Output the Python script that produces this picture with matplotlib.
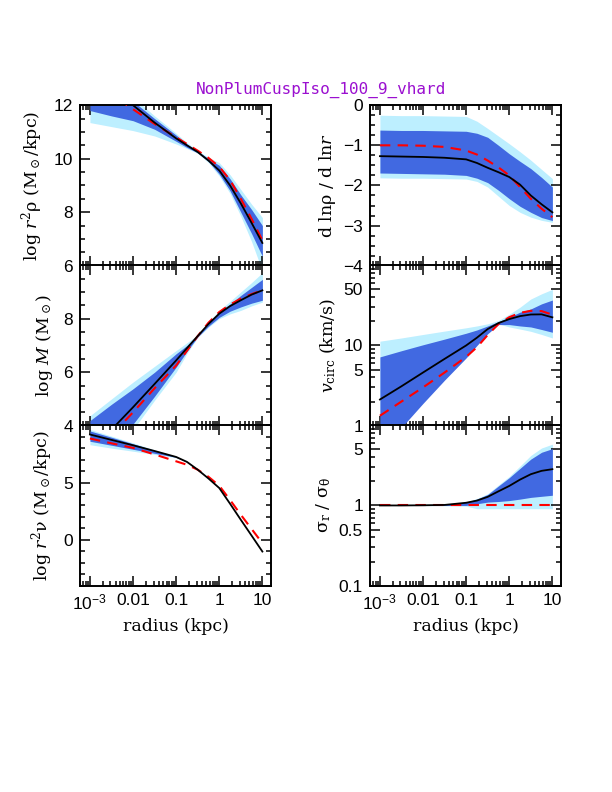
import matplotlib
matplotlib.use("Agg")
import matplotlib.pyplot as plt
from matplotlib.ticker import FixedLocator, FixedFormatter, MultipleLocator, LogLocator, NullFormatter

plt.rcParams['font.family'] = ['Liberation Sans', 'DejaVu Sans']
plt.rcParams['mathtext.fontset'] = 'dejavuserif'
plt.rcParams['mathtext.default'] = 'regular'

# radius grid (kpc)
radius = [0.001, 0.00316, 0.01, 0.0316, 0.1, 0.178, 0.316, 0.562, 1.0, 1.78, 3.16, 5.62, 10.0]

# ---- panel 1: log r^2 rho
rho_black = [13.3, 12.6, 12.0, 11.35, 10.76, 10.5, 10.25, 9.93, 9.56, 9.0, 8.33, 7.6, 6.85]
rho_red   = [13.0, 12.4, 11.85, 11.3, 10.8, 10.55, 10.3, 10.03, 9.7, 9.2, 8.5, 7.75, 6.95]
rho_l_hi  = [14.0, 13.0, 12.3, 11.6, 10.95, 10.6, 10.3, 10.05, 9.85, 9.4, 8.85, 8.3, 7.8]
rho_l_lo  = [11.35, 11.2, 11.05, 10.85, 10.55, 10.38, 10.2, 9.85, 9.35, 8.7, 7.85, 6.9, 5.8]
rho_d_hi  = [13.5, 12.8, 12.15, 11.5, 10.88, 10.55, 10.28, 10.0, 9.75, 9.25, 8.65, 8.1, 7.5]
rho_d_lo  = [11.8, 11.6, 11.42, 11.1, 10.65, 10.42, 10.22, 9.9, 9.42, 8.8, 8.0, 7.2, 6.35]

# ---- panel 2: dlnrho/dlnr
slope_black = [-1.27, -1.28, -1.29, -1.31, -1.35, -1.44, -1.56, -1.67, -1.79, -1.98, -2.25, -2.47, -2.67]
slope_red   = [-1.0, -1.0, -1.01, -1.04, -1.13, -1.23, -1.38, -1.55, -1.75, -2.04, -2.33, -2.58, -2.79]
slope_l_hi  = [-0.25, -0.26, -0.26, -0.27, -0.28, -0.4, -0.58, -0.77, -0.96, -1.16, -1.37, -1.6, -1.83]
slope_l_lo  = [-1.81, -1.82, -1.82, -1.83, -1.84, -1.9, -2.04, -2.27, -2.5, -2.67, -2.79, -2.87, -2.92]
slope_d_hi  = [-0.62, -0.63, -0.63, -0.64, -0.65, -0.7, -0.8, -1.0, -1.21, -1.4, -1.58, -1.8, -2.04]
slope_d_lo  = [-1.69, -1.7, -1.71, -1.72, -1.75, -1.82, -1.93, -2.12, -2.33, -2.52, -2.67, -2.8, -2.875]

# ---- panel 3: log M
mass_black = [3.0, 3.85, 4.69, 5.56, 6.44, 6.9, 7.35, 7.8, 8.19, 8.47, 8.69, 8.9, 9.06]
mass_red   = [2.7, 3.65, 4.5, 5.4, 6.25, 6.8, 7.35, 7.85, 8.25, 8.53, 8.75, 8.92, 9.06]
mass_l_hi  = [4.37, 5.0, 5.63, 6.22, 6.81, 7.1, 7.4, 7.85, 8.31, 8.65, 9.0, 9.35, 9.72]
mass_l_lo  = [2.0, 2.9, 3.85, 4.95, 6.0, 6.7, 7.3, 7.68, 8.0, 8.18, 8.31, 8.48, 8.62]
mass_d_hi  = [4.19, 4.8, 5.38, 6.0, 6.69, 7.0, 7.38, 7.8, 8.25, 8.55, 8.87, 9.17, 9.47]
mass_d_lo  = [2.4, 3.25, 4.06, 5.1, 6.19, 6.78, 7.32, 7.72, 8.05, 8.28, 8.44, 8.58, 8.69]

# ---- panel 4: v_circ (km/s)
vc_black = [2.12, 3.1, 4.6, 6.8, 10.0, 12.5, 16.0, 19.0, 21.3, 23.2, 24.3, 24.4, 22.4]
vc_red   = [1.33, 2.0, 3.0, 4.6, 7.2, 9.5, 13.5, 18.5, 22.5, 25.5, 27.0, 26.8, 24.2]
vc_l_hi  = [11.3, 12.4, 13.7, 15.1, 16.6, 17.5, 18.6, 20.5, 24.5, 30.0, 37.9, 44.0, 50.0]
vc_l_lo  = [0.52, 1.02, 2.0, 3.9, 7.6, 10.6, 14.8, 18.6, 17.0, 16.0, 15.0, 13.7, 12.4]
vc_d_hi  = [7.2, 8.6, 10.2, 12.0, 14.2, 15.6, 17.5, 19.8, 22.5, 26.0, 28.5, 33.0, 36.8]
vc_d_lo  = [0.4, 0.95, 1.9, 3.7, 7.0, 10.0, 14.0, 18.2, 18.2, 17.5, 17.0, 15.8, 14.6]

# ---- panel 5: log r^2 nu
nu_black = [9.19, 8.72, 8.25, 7.75, 7.23, 6.8, 6.12, 5.35, 4.52, 3.15, 1.75, 0.37, -1.02]
nu_red   = [8.84, 8.42, 8.02, 7.45, 6.85, 6.55, 6.12, 5.5, 4.72, 3.48, 2.19, 0.95, -0.29]
nu_l_hi  = [9.63, 9.05, 8.46, 7.85, 7.28, 6.83, 6.14, 5.37, 4.54, 3.17, 1.77, 0.39, -1.0]
nu_l_lo  = [8.3, 8.0, 7.73, 7.45, 7.18, 6.77, 6.10, 5.33, 4.50, 3.13, 1.73, 0.35, -1.04]
nu_d_hi  = [9.5, 8.95, 8.38, 7.8, 7.26, 6.82, 6.13, 5.36, 4.53, 3.16, 1.76, 0.38, -1.01]
nu_d_lo  = [8.6, 8.25, 7.9, 7.55, 7.2, 6.78, 6.11, 5.34, 4.51, 3.14, 1.74, 0.36, -1.03]

# ---- panel 6: sigma_r / sigma_theta
an_black = [1.0, 1.0, 1.005, 1.015, 1.08, 1.15, 1.28, 1.5, 1.75, 2.1, 2.45, 2.7, 2.83]
an_red   = [1.0, 1.0, 1.0, 1.0, 1.0, 1.0, 1.0, 1.0, 1.0, 1.0, 1.0, 1.0, 1.0]
an_l_hi  = [1.0, 1.0, 1.01, 1.035, 1.11, 1.22, 1.4, 1.8, 2.3, 3.1, 4.2, 5.2, 5.8]
an_l_lo  = [1.0, 1.0, 0.995, 0.99, 0.98, 0.91, 0.91, 0.91, 0.91, 0.91, 0.91, 0.91, 0.91]
an_d_hi  = [1.0, 1.0, 1.01, 1.03, 1.1, 1.2, 1.37, 1.75, 2.22, 2.9, 3.78, 4.6, 5.1]
an_d_lo  = [1.0, 1.0, 1.0, 1.0, 1.0, 1.05, 1.1, 1.12, 1.15, 1.2, 1.26, 1.3, 1.34]

xtick_vals = [0.001, 0.01, 0.1, 1, 10]
xtick_labels = ['$10^{-3}$', '0.01', '0.1', '1', '10']

LIGHT = '#bdefff'
DARK = '#4169e1'

fig = plt.figure(figsize=(6.12, 7.92), dpi=100)

lx, rx, w = 80/612, 370/612, 191/612
h = 160.5/792
ys = [1-265.7/792, 1-425.7/792, 1-585.7/792]

def style(ax):
    ax.set_xscale('log')
    ax.set_xlim(10**-3.23, 10**1.2)
    ax.xaxis.set_major_locator(FixedLocator(xtick_vals))
    ax.xaxis.set_minor_locator(LogLocator(base=10, subs=range(2, 10), numticks=20))
    ax.tick_params(which='both', direction='in', top=True, right=True, width=1.1)
    ax.tick_params(which='major', length=7, labelsize=12.5, pad=5)
    ax.tick_params(which='minor', length=3.6)
    for s in ax.spines.values():
        s.set_linewidth(1.4)

def draw(ax, y_black, y_red, lhi, llo, dhi, dlo):
    ax.fill_between(radius, llo, lhi, color=LIGHT, lw=0, zorder=1)
    ax.fill_between(radius, dlo, dhi, color=DARK, lw=0, zorder=2)
    ax.plot(radius, y_black, color='black', lw=1.3, zorder=4)
    ax.plot(radius, y_red, color='red', lw=1.5, dashes=(5, 3.5), zorder=3)

labfont = dict(family='DejaVu Serif', size=12.5)

# left column
ax1 = fig.add_axes([lx, ys[0], w, h])
draw(ax1, rho_black, rho_red, rho_l_hi, rho_l_lo, rho_d_hi, rho_d_lo)
style(ax1)
ax1.set_ylim(6, 12)
ax1.yaxis.set_major_locator(FixedLocator([6, 8, 10, 12]))
ax1.yaxis.set_minor_locator(MultipleLocator(0.5))
ax1.set_ylabel(r'log $\mathit{r}^2\rho$ (M$_\odot$/kpc)', fontdict=labfont, labelpad=6)

ax3 = fig.add_axes([lx, ys[1], w, h])
draw(ax3, mass_black, mass_red, mass_l_hi, mass_l_lo, mass_d_hi, mass_d_lo)
style(ax3)
ax3.set_ylim(4, 10)
ax3.yaxis.set_major_locator(FixedLocator([4, 6, 8]))
ax3.yaxis.set_minor_locator(MultipleLocator(0.5))
ax3.set_ylabel(r'log $\mathit{M}$ (M$_\odot$)', fontdict=labfont, labelpad=6)

ax5 = fig.add_axes([lx, ys[2], w, h])
draw(ax5, nu_black, nu_red, nu_l_hi, nu_l_lo, nu_d_hi, nu_d_lo)
style(ax5)
ax5.set_ylim(-4, 10)
ax5.yaxis.set_major_locator(FixedLocator([0, 5]))
ax5.yaxis.set_minor_locator(MultipleLocator(1))
ax5.set_ylabel(r'log $\mathit{r}^2\nu$ (M$_\odot$/kpc)', fontdict=labfont, labelpad=6)

# right column
ax2 = fig.add_axes([rx, ys[0], w, h])
draw(ax2, slope_black, slope_red, slope_l_hi, slope_l_lo, slope_d_hi, slope_d_lo)
style(ax2)
ax2.set_ylim(-4, 0)
ax2.yaxis.set_major_locator(FixedLocator([-4, -3, -2, -1, 0]))
ax2.yaxis.set_major_formatter(FixedFormatter(['\u22124', '\u22123', '\u22122', '\u22121', '0']))
ax2.yaxis.set_minor_locator(MultipleLocator(0.25))
ax2.set_ylabel(r'd ln$\rho$ / d ln$\mathit{r}$', fontdict=labfont, labelpad=4)

ax4 = fig.add_axes([rx, ys[1], w, h])
draw(ax4, vc_black, vc_red, vc_l_hi, vc_l_lo, vc_d_hi, vc_d_lo)
style(ax4)
ax4.set_yscale('log')
ax4.set_ylim(1, 100)
ax4.yaxis.set_major_locator(FixedLocator([1, 5, 10, 50]))
ax4.yaxis.set_major_formatter(FixedFormatter(['1', '5', '10', '50']))
ax4.yaxis.set_minor_locator(LogLocator(base=10, subs=range(2, 10), numticks=20))
ax4.yaxis.set_minor_formatter(NullFormatter())
ax4.set_ylabel(r'$\mathit{v}_{\rm circ}$ (km/s)', fontdict=labfont, labelpad=4)

ax6 = fig.add_axes([rx, ys[2], w, h])
draw(ax6, an_black, an_red, an_l_hi, an_l_lo, an_d_hi, an_d_lo)
style(ax6)
ax6.set_yscale('log')
ax6.set_ylim(0.1, 10)
ax6.yaxis.set_major_locator(FixedLocator([0.1, 0.5, 1, 5]))
ax6.yaxis.set_major_formatter(FixedFormatter(['0.1', '0.5', '1', '5']))
ax6.yaxis.set_minor_locator(LogLocator(base=10, subs=range(2, 10), numticks=20))
ax6.yaxis.set_minor_formatter(NullFormatter())
ax6.set_ylabel(r'$\sigma_r$ / $\sigma_\theta$', fontdict=labfont, labelpad=4)

for ax in (ax1, ax2, ax3, ax4):
    ax.set_xticklabels([])
for ax in (ax5, ax6):
    ax.xaxis.set_major_formatter(FixedFormatter(xtick_labels))
    ax.set_xlabel('radius (kpc)', fontdict=labfont, labelpad=4)

fig.text(321/612, 1-90/792, 'NonPlumCuspIso_100_9_vhard', color='#9b10d0',
         ha='center', va='center', family='DejaVu Sans Mono', fontsize=11.5)

fig.savefig('out.png', dpi=100)
